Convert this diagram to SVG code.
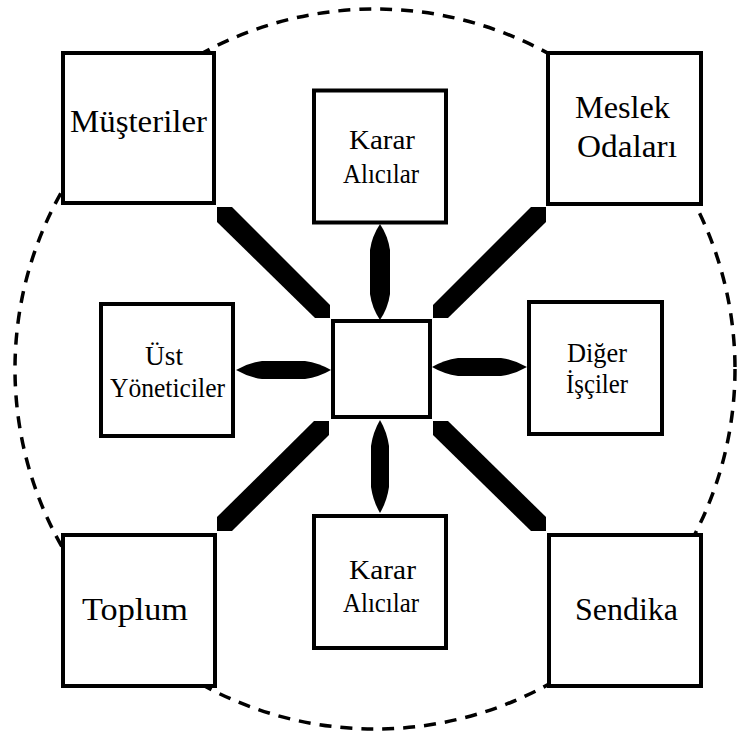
<svg xmlns="http://www.w3.org/2000/svg" width="738" height="740" viewBox="0 0 738 740">
<style>
.box{fill:#fff;stroke:#000;stroke-width:4}
.big{font-family:"Liberation Serif","Times New Roman",serif;font-size:31px;fill:#000}
.sm{font-family:"Liberation Serif","Times New Roman",serif;font-size:28px;fill:#000}
.conn{fill:#000;stroke:none}
</style>
<rect width="738" height="740" fill="#fff"/>
<circle cx="375" cy="369" r="360" fill="none" stroke="#000" stroke-width="3.5" stroke-dasharray="12 9"/>
<g id="connectors" class="conn">
<polygon points="217,207 232,207 330,305 330,318 315,318 217,222"/>
<polygon points="546,207 531,207 433,305 433,318 448,318 546,222"/>
<polygon points="329,421 314,421 217,517 217,531 232,531 329,435"/>
<polygon points="433,421 448,421 546,517 546,531 531,531 433,435"/>
<path d="M380,224 Q388,236 390,250 L390,294 Q388,308 380,320 Q372,308 370,294 L370,250 Q372,236 380,224 Z"/>
<path d="M380,420 Q387,432 389,446 L389,487 Q387,501 380,513 Q373,501 371,487 L371,446 Q373,432 380,420 Z"/>
<path d="M236,370 Q248,363 262,361 L305,361 Q319,363 331,370 Q319,377 305,379 L262,379 Q248,377 236,370 Z"/>
<path d="M432,367 Q444,360 458,358 L501,358 Q515,360 527,367 Q515,374 501,376 L458,376 Q444,374 432,367 Z"/>
</g>
<g id="center"><rect class="box" x="333" y="321" width="97" height="96"/></g>
<g id="musteriler"><rect class="box" x="63" y="53" width="151" height="150"/>
<text class="big" x="70" y="132" textLength="137" lengthAdjust="spacingAndGlyphs">Müşteriler</text></g>
<g id="karar-top"><rect class="box" x="314" y="90.5" width="132" height="132"/>
<text class="sm" x="349" y="149" textLength="66" lengthAdjust="spacingAndGlyphs">Karar</text>
<text class="sm" x="343" y="183" textLength="76" lengthAdjust="spacingAndGlyphs">Alıcılar</text></g>
<g id="meslek"><rect class="box" x="548" y="53" width="153" height="151"/>
<text class="big" x="575" y="118" textLength="95" lengthAdjust="spacingAndGlyphs">Meslek</text>
<text class="big" x="577" y="157" textLength="100" lengthAdjust="spacingAndGlyphs">Odaları</text></g>
<g id="ust"><rect class="box" x="101" y="304" width="132" height="132"/>
<text class="sm" x="145" y="365" textLength="38" lengthAdjust="spacingAndGlyphs">Üst</text>
<text class="sm" x="110" y="397" textLength="115" lengthAdjust="spacingAndGlyphs">Yöneticiler</text></g>
<g id="diger"><rect class="box" x="529" y="302" width="133" height="132"/>
<text class="sm" x="567" y="362" textLength="60" lengthAdjust="spacingAndGlyphs">Diğer</text>
<text class="sm" x="566" y="393" textLength="62" lengthAdjust="spacingAndGlyphs">İşçiler</text></g>
<g id="toplum"><rect class="box" x="63" y="535" width="152" height="151"/>
<text class="big" x="82" y="620" textLength="106" lengthAdjust="spacingAndGlyphs">Toplum</text></g>
<g id="karar-bottom"><rect class="box" x="314" y="516" width="132" height="132"/>
<text class="sm" x="349" y="579" textLength="67" lengthAdjust="spacingAndGlyphs">Karar</text>
<text class="sm" x="343" y="612" textLength="76" lengthAdjust="spacingAndGlyphs">Alıcılar</text></g>
<g id="sendika"><rect class="box" x="549" y="535" width="152" height="151"/>
<text class="big" x="575" y="620" textLength="103" lengthAdjust="spacingAndGlyphs">Sendika</text></g>
</svg>
